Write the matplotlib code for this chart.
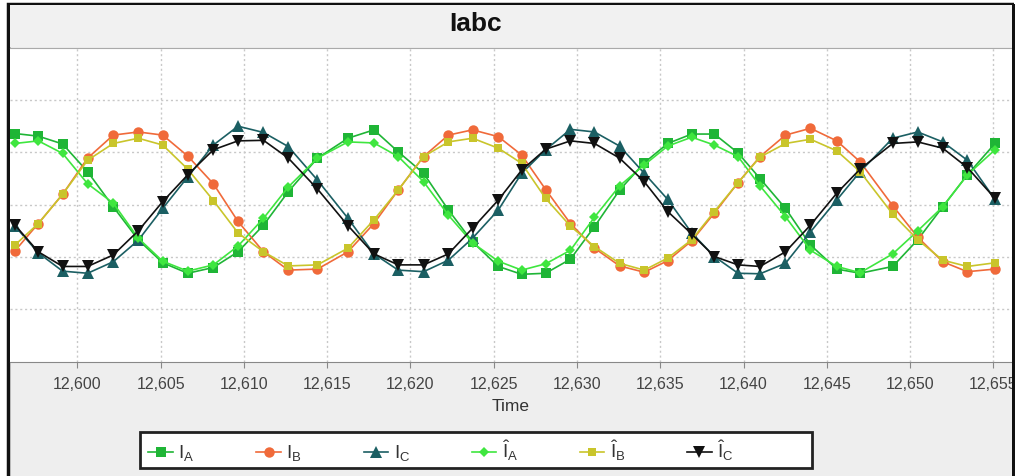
import matplotlib
matplotlib.use("Agg")
from matplotlib import pyplot as plt
from matplotlib.patches import Rectangle
from matplotlib.ticker import FuncFormatter, MultipleLocator
import numpy as np

plt.rcParams["font.family"] = ["Liberation Sans", "DejaVu Sans"]
plt.rcParams["mathtext.fontset"] = "custom"
plt.rcParams["mathtext.rm"] = "Liberation Sans"
plt.rcParams["mathtext.default"] = "regular"

# sample times (ms)
time = [12596.26, 12597.66, 12599.12, 12600.62, 12602.16, 12603.66, 12605.13, 12606.63,
        12608.17, 12609.65, 12611.18, 12612.67, 12614.42, 12616.25, 12617.81, 12619.27,
        12620.79, 12622.28, 12623.73, 12625.28, 12626.68, 12628.12, 12629.61, 12631.05,
        12632.56, 12634.04, 12635.45, 12636.89, 12638.25, 12639.67, 12640.99, 12642.52,
        12644.02, 12645.60, 12647.00, 12648.96, 12650.46, 12651.96, 12653.44, 12655.10]

i_a = [13.6, 13.1, 11.6, 6.3, -0.4, -6.7, -11.1, -13.1, -12.0, -9.0,
       -3.9, 2.5, 8.9, 12.7, 14.3, 10.1, 6.0, -1.0, -7.1, -11.8,
       -13.3, -13.1, -10.4, -4.2, 2.8, 8.0, 11.7, 13.5, 13.5, 9.9,
       5.0, -0.7, -7.7, -12.3, -13.1, -11.8, -6.7, -0.4, 5.7, 11.7]
i_b = [-8.8, -3.6, 2.0, 8.9, 13.3, 13.9, 13.3, 9.3, 4.0, -3.2,
       -9.0, -12.5, -12.3, -9.0, -3.6, 2.8, 9.2, 13.3, 14.3, 13.0,
       9.5, 2.9, -3.6, -8.3, -11.7, -12.9, -10.7, -6.9, -1.6, 4.2,
       9.2, 13.3, 14.6, 12.2, 8.2, -0.2, -6.2, -10.9, -12.8, -12.3]
i_c = [-4.1, -9.2, -12.7, -13.1, -10.9, -6.8, -0.7, 5.3, 11.4, 15.0,
       13.8, 11.1, 4.7, -2.6, -9.4, -12.5, -12.8, -10.6, -6.4, -1.0,
       6.0, 10.5, 14.4, 13.9, 11.2, 6.0, 1.0, -5.4, -9.9, -13.1,
       -13.2, -11.2, -5.2, 0.9, 6.3, 12.7, 13.9, 12.0, 8.5, 1.0]
i_a_hat = [11.7, 12.2, 9.8, 4.0, 0.3, -6.4, -10.8, -12.7, -11.5, -7.9,
           -2.6, 3.4, 8.9, 12.0, 11.8, 9.2, 4.4, -2.0, -7.3, -10.8,
           -12.5, -11.3, -8.7, -2.4, 3.6, 7.6, 11.2, 12.9, 11.4, 9.2,
           3.6, -2.3, -8.7, -11.8, -13.0, -9.4, -5.0, -0.4, 5.7, 10.5]
i_b_hat = [-7.7, -3.6, 2.0, 8.5, 11.7, 12.7, 11.4, 6.8, 0.8, -5.4,
           -9.0, -11.7, -11.5, -8.3, -2.9, 2.8, 9.2, 12.0, 12.7, 10.8,
           7.9, 1.2, -4.1, -8.0, -11.2, -12.5, -10.2, -6.7, -1.3, 4.2,
           9.1, 11.7, 12.5, 10.3, 6.3, -1.8, -6.7, -10.6, -11.8, -11.1]
i_c_hat = [-3.9, -9.0, -11.8, -11.8, -9.6, -5.0, 0.6, 5.7, 10.5, 12.2,
           12.3, 8.9, 3.0, -4.0, -9.4, -11.5, -11.5, -9.4, -4.5, 0.9,
           6.6, 10.6, 12.2, 11.7, 8.9, 4.4, -1.3, -5.6, -9.9, -11.5,
           -11.8, -9.0, -3.9, 2.2, 6.8, 11.7, 12.0, 10.8, 7.1, 1.2]

labels = ["$I_A$", "$I_B$", "$I_C$", r"$\hat{I}_A$", r"$\hat{I}_B$", r"$\hat{I}_C$"]
series = [i_a, i_b, i_c, i_a_hat, i_b_hat, i_c_hat]
colors = ["#1fb536", "#f06a3a", "#1b5f63", "#3fe63f", "#c9c52b", "#111111"]
markers = ["s", "o", "^", "D", "s", "v"]
msizes = [7.5, 7.5, 8, 5.5, 5.5, 8]

W, H = 1025, 476
fig = plt.figure(figsize=(W / 100, H / 100), dpi=100, facecolor="white")

# window panel + title band
fig.add_artist(Rectangle((8 / W, -0.05), 1006 / W, 1.05 - 4 / H, transform=fig.transFigure,
                         facecolor="#eeeeee", edgecolor="#111111", lw=2.5, zorder=-2))
fig.add_artist(Rectangle((10 / W, 1 - 47 / H), 1002 / W, 42 / H, transform=fig.transFigure,
                         facecolor="#f1f1f1", edgecolor="none", zorder=-1))

ax = fig.add_axes([10 / W, 1 - 361.7 / H, 1002 / W, 314 / H])
ax.set_facecolor("white")

for ys, lab, c, m, ms in zip(series, labels, colors, markers, msizes):
    ax.plot(time, ys, color=c, lw=1.2, marker=m, markersize=ms,
            markeredgewidth=0, label=lab)

ax.set_xlim(12595.96, 12656.12)
ax.set_ylim(-30, 30)
ax.xaxis.set_major_locator(MultipleLocator(5))
ax.xaxis.set_major_formatter(FuncFormatter(lambda v, p: "{:,.0f}".format(v)))
ax.set_yticks([-20, -10, 0, 10, 20])
ax.tick_params(axis="y", length=0, labelleft=False)
ax.tick_params(axis="x", length=4, color="#888888", pad=7, labelsize=11.5,
               labelcolor="#444444")
ax.grid(True, color="#c8c8c8", linestyle=(0, (1.5, 2)), lw=1)
for side in ["left", "right"]:
    ax.spines[side].set_visible(False)
ax.spines["top"].set_color("#aaaaaa")
ax.spines["bottom"].set_color("#888888")
ax.set_xlabel("Time", fontsize=12.5, color="#333333", labelpad=5)

fig.text(476 / W, 1 - 24 / H, "Iabc", ha="center", va="center",
         fontsize=19, fontweight="bold", color="#111111")

# legend box
fig.add_artist(Rectangle((140 / W, 1 - 468 / H), 672 / W, 36 / H, transform=fig.transFigure,
                         facecolor="white", edgecolor="#222222", lw=2, zorder=3))
h, l = ax.get_legend_handles_labels()
leg = fig.legend(h, l, ncol=6, loc="center", bbox_to_anchor=(441 / W, 1 - 451 / H),
                 frameon=False, fontsize=13.5, handlelength=1.3, handletextpad=0.3,
                 columnspacing=3.3, labelcolor="#333333")
leg.set_zorder(4)

# cover what falls outside the window frame on the right
fig.add_artist(Rectangle((1014 / W, 0), 11 / W, 1, transform=fig.transFigure,
                         facecolor="white", edgecolor="none", zorder=5))
fig.add_artist(Rectangle((1012 / W, 0), 2.5 / W, 1 - 4 / H, transform=fig.transFigure,
                         facecolor="#111111", edgecolor="none", zorder=6))

fig.savefig("out.png", dpi=100, facecolor=fig.get_facecolor())
plt.close(fig)
